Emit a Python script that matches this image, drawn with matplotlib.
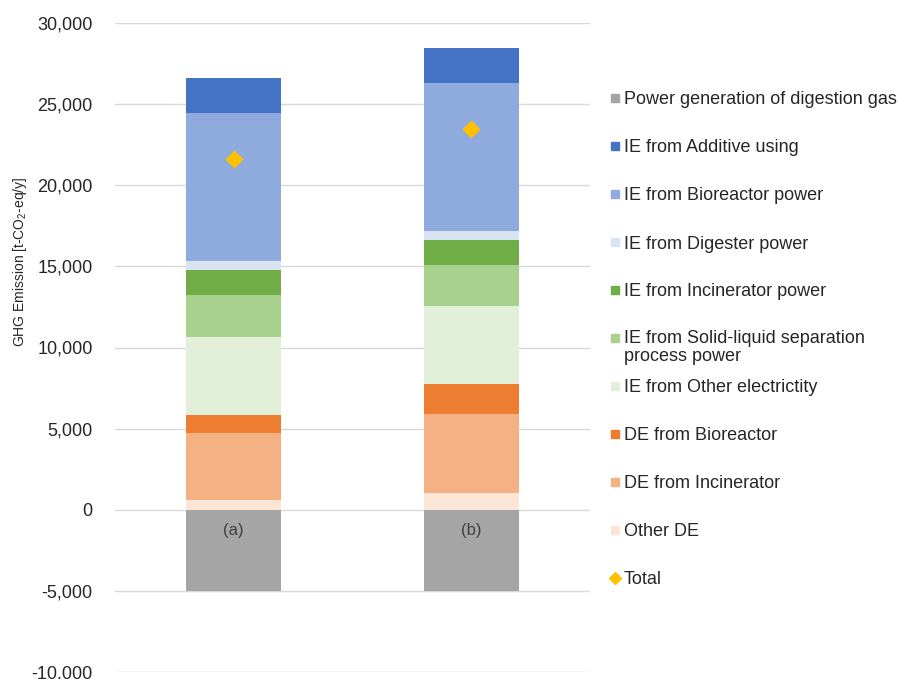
import matplotlib
matplotlib.use("Agg")
import matplotlib.pyplot as plt
from matplotlib.lines import Line2D
import numpy as np

plt.rcParams['font.family'] = ['Liberation Sans', 'DejaVu Sans']
plt.rcParams['mathtext.fontset'] = 'custom'
plt.rcParams['mathtext.rm'] = 'Liberation Sans'
plt.rcParams['mathtext.it'] = 'Liberation Sans'

# scenarios
categories = ['(a)', '(b)']

# stacked components, bottom to top (t-CO2-eq/y)
power_generation = [-5000, -5000]
other_de = [600, 1045]
de_incinerator = [4100, 4835]
de_bioreactor = [1140, 1890]
ie_other_elec = [4820, 4770]
ie_solid_liquid = [2580, 2560]
ie_incinerator = [1550, 1540]
ie_digester = [560, 570]
ie_bioreactor = [9090, 9120]
ie_additive = [2150, 2150]
total = [21590, 23480]

positive_series = [
    ("Other DE", other_de, "#FBE5D6"),
    ("DE from Incinerator", de_incinerator, "#F4B183"),
    ("DE from Bioreactor", de_bioreactor, "#ED7D31"),
    ("IE from Other electrictity", ie_other_elec, "#E2F0D9"),
    ("IE from Solid-liquid separation\nprocess power", ie_solid_liquid, "#A9D18E"),
    ("IE from Incinerator power", ie_incinerator, "#70AD47"),
    ("IE from Digester power", ie_digester, "#DAE3F3"),
    ("IE from Bioreactor power", ie_bioreactor, "#8FAADC"),
    ("IE from Additive using", ie_additive, "#4472C4"),
]
gray = "#A5A5A5"
gold = "#FFC000"
text_col = "#262626"

fig = plt.figure(figsize=(9, 6.79), dpi=100)
ax = fig.add_axes([115 / 900, 1 - 672 / 679, 475 / 900, 649 / 679])

x = np.arange(len(categories))
width = 0.4

ax.bar(x, power_generation, width, color=gray, zorder=2)
bottom = np.zeros(len(categories))
for name, vals, col in positive_series:
    ax.bar(x, vals, width, bottom=bottom, color=col, zorder=2)
    bottom += np.array(vals)
ax.scatter(x, total, marker='D', s=85, color=gold, zorder=3, linewidths=0)

ax.set_xlim(-0.5, 1.5)
ax.set_ylim(-10000, 30000)
ax.set_yticks(np.arange(-10000, 30001, 5000))
ax.yaxis.set_major_formatter(matplotlib.ticker.FuncFormatter(lambda v, p: f"{v:,.0f}"))
ax.tick_params(axis='y', length=0, pad=16, labelsize=13, labelcolor=text_col)
ax.set_xticks([])
ax.grid(axis='y', color='#D9D9D9', linewidth=1, zorder=0)
for s in ax.spines.values():
    s.set_visible(False)

for xi, lab in zip(x, categories):
    ax.annotate(lab, (xi, 0), xytext=(0, -15), textcoords='offset points',
                ha='center', va='center', fontsize=12, color='#404040')

fig.text(20 / 900, 1 - 262 / 679, 'GHG Emission [t-CO$_2$-eq/y]', fontsize=10,
         color=text_col, rotation=90, ha='center', va='center')

# legend, top to bottom
legend_items = [("Power generation of digestion gas", gray, 's')]
for name, vals, col in reversed(positive_series):
    legend_items.append((name, col, 's'))
legend_items.append(("Total", gold, 'D'))

y0 = 98
for i, (name, col, mk) in enumerate(legend_items):
    yy = 1 - (y0 + 48 * i) / 679
    ms = 6 if mk == 's' else 6.5
    fig.add_artist(Line2D([615 / 900], [yy], marker=mk, markersize=ms, color=col,
                          linestyle='none', transform=fig.transFigure))
    if '\n' in name:
        fig.text(624 / 900, yy + 8 / 679, name, fontsize=13, color=text_col, va='top',
                 linespacing=1.1)
    else:
        fig.text(624 / 900, yy - 2 / 679, name, fontsize=13, color=text_col, va='center')

fig.savefig('out.png', dpi=100)
